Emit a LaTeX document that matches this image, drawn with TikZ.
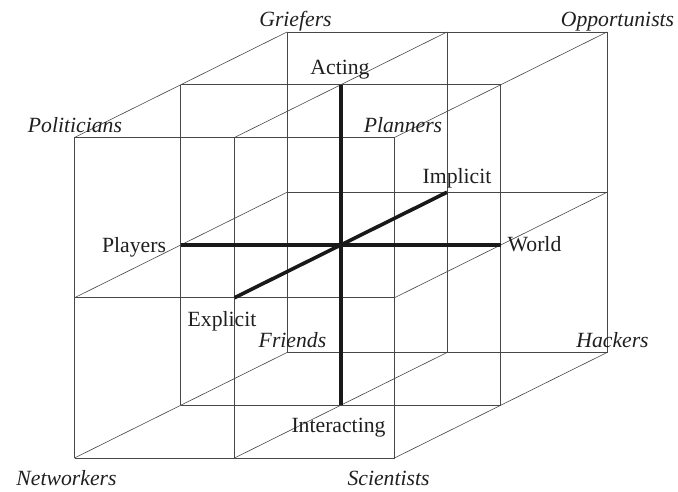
\documentclass[tikz,border=0pt]{standalone}
\usepackage{fontspec}
\setmainfont{Liberation Serif}
\begin{document}
\begin{tikzpicture}[x=1pt,y=1pt,
  grid/.style={draw=black!72,line width=0.6pt},
  axis/.style={draw=black!90,line width=3.6pt},
  lbl/.style={anchor=base,inner sep=0pt,text=black!88,font=\fontsize{21.7}{24}\selectfont},
  ilbl/.style={lbl,font=\fontsize{21.7}{24}\selectfont\itshape}]
\useasboundingbox (0,0) rectangle (678,491);
% lattice points
\foreach \i in {0,1,2}{\foreach \j in {0,1,2}{\foreach \k in {0,1,2}{
  \coordinate (p\i\j\k) at ({74.5+160*\i+106.25*\k},{33+160.25*\j+52.75*\k});
}}}
% grid lines
\foreach \a in {0,1,2}{\foreach \b in {0,1,2}{
  \draw[grid] (p0\a\b) -- (p2\a\b);
  \draw[grid] (p\a0\b) -- (p\a2\b);
  \draw[grid] (p\a\b0) -- (p\a\b2);
}}
% axes
\draw[axis] (p011) -- (p211);
\draw[axis] (p101) -- (p121);
\draw[axis] (p110) -- (p112);
% labels
\node[ilbl] (griefers) at (295.5,464.3) {Griefers};
\node[ilbl] (opport) at (617.5,464.3) {Opportunists};
\node[ilbl] (polit) at (75,358) {Politicians};
\node[ilbl] (plann) at (403,358) {Planners};
\node[lbl] (acting) at (340,416) {Acting};
\node[lbl] (implicit) at (457,307) {Implicit};
\node[lbl] (players) at (134,239) {Players};
\node[lbl] (world) at (534.5,240) {World};
\node[lbl] (explicit) at (222,165) {Explicit};
\node[ilbl] (friends) at (292.5,144) {Friends};
\node[ilbl] (hackers) at (612.5,144) {Hackers};
\node[lbl] (interact) at (338.5,59) {Interacting};
\node[ilbl] (network) at (66.5,6) {Networkers};
\node[ilbl] (scient) at (388.5,6) {Scientists};
\end{tikzpicture}
\end{document}
